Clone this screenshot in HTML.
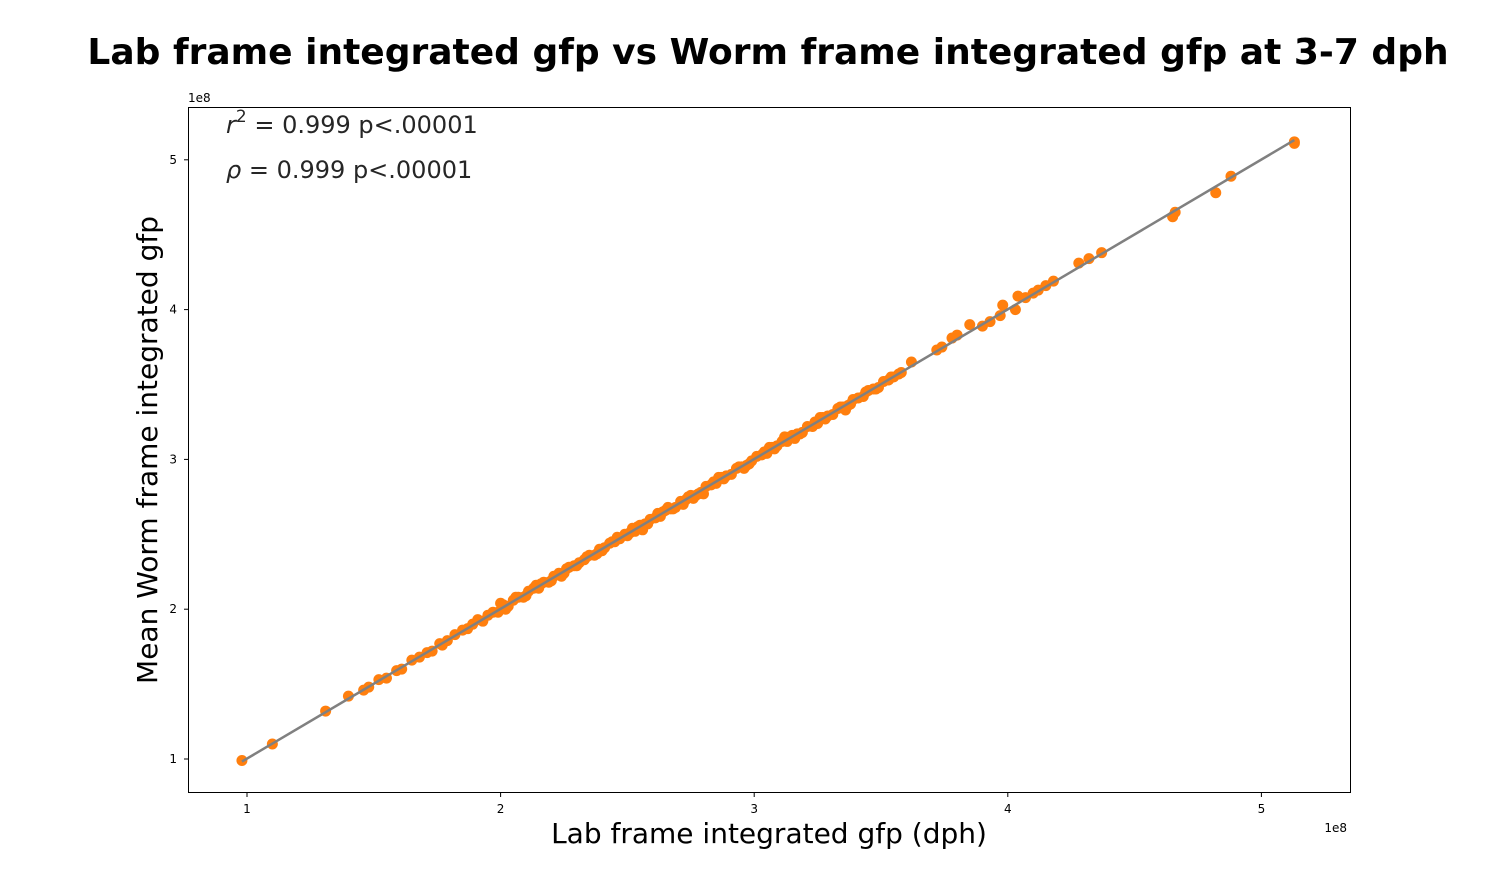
<!DOCTYPE html>
<html><head><meta charset="utf-8"><style>
body{margin:0;background:#fff;}
svg{display:block;font-family:"DejaVu Sans","Liberation Sans",sans-serif;}
</style></head><body>
<svg id="chart" width="1500" height="891" viewBox="0 0 1500 891">
<text x="768" y="64" text-anchor="middle" font-size="36" font-weight="bold">Lab frame integrated gfp vs Worm frame integrated gfp at 3-7 dph</text>
<rect x="188.5" y="107.5" width="1162" height="685" fill="none" stroke="#000" stroke-width="1"/>
<g id="marks"></g>
<g id="axes"></g>
<text x="1347" y="832" text-anchor="end" font-size="12">1e8</text>
<text x="188" y="102" font-size="12">1e8</text>
<text x="769" y="843" text-anchor="middle" font-size="28">Lab frame integrated gfp (dph)</text>
<text transform="translate(157,450) rotate(-90)" text-anchor="middle" font-size="28">Mean Worm frame integrated gfp</text>
<text x="226" y="133" font-size="24" fill="#262626"><tspan font-style="italic">r</tspan><tspan dy="-11" font-size="17">2</tspan><tspan dy="11"> = 0.999 p&lt;.00001</tspan></text>
<text x="226" y="178" font-size="24" fill="#262626"><tspan font-style="italic">ρ</tspan> = 0.999 p&lt;.00001</text>
</svg>
<script>
const xTicks=[1,2,3,4,5];
const yTicks=[1,2,3,4,5];
const labX=[0.98,1.10,1.31,1.40,1.46,1.48,1.52,1.55,1.59,1.61,1.65,1.68,1.71,1.73,1.76,1.77,1.79,1.82,1.85,1.87,1.89,1.91,1.93,1.95,1.97,1.99,2.01,2.03,2.05,2.07,2.09,2.11,2.13,2.15,2.17,2.19,2.21,2.23,2.25,2.27,2.29,2.31,2.33,2.35,2.37,2.39,2.41,2.43,2.45,2.47,2.49,2.51,2.53,2.55,2.57,2.59,2.61,2.63,2.65,2.67,2.69,2.71,2.73,2.75,2.77,2.79,2.81,2.83,2.85,2.87,2.89,2.91,2.93,2.95,2.97,2.99,3.01,3.03,3.05,3.07,3.09,3.11,3.13,3.15,3.17,3.19,3.21,3.23,3.25,3.27,3.29,3.31,3.33,3.35,3.37,3.39,3.41,3.43,3.45,3.47,3.49,3.51,3.53,3.55,3.57,3.58,3.62,3.72,3.74,3.78,3.80,3.85,3.90,3.93,3.97,3.98,4.03,4.04,4.07,4.10,4.12,4.15,4.18,4.28,4.32,4.37,4.65,4.66,4.82,4.88,5.13,5.13,2.00,2.24,2.46,2.62,2.80,3.12,3.36,2.14,2.38,2.72,
2.02,2.06,2.10,2.16,2.20,2.26,2.30,2.34,2.40,2.44,2.50,2.54,2.58,2.64,2.68,2.74,2.78,2.84,2.88,2.94,2.98,3.04,3.08,3.14,3.18,3.24,3.28,3.34,3.38,3.44,3.48,3.54,2.52,2.56,2.66,2.76,2.86,2.96,3.06,3.16,3.26];
const wormY=[0.99,1.10,1.32,1.42,1.46,1.48,1.53,1.54,1.59,1.60,1.66,1.68,1.71,1.72,1.77,1.76,1.79,1.83,1.86,1.87,1.90,1.93,1.92,1.96,1.98,1.98,2.03,2.02,2.06,2.08,2.08,2.12,2.14,2.14,2.18,2.18,2.22,2.24,2.24,2.28,2.29,2.31,2.33,2.36,2.36,2.40,2.41,2.44,2.45,2.47,2.50,2.51,2.52,2.56,2.57,2.60,2.61,2.62,2.66,2.67,2.68,2.72,2.73,2.76,2.76,2.78,2.82,2.83,2.84,2.88,2.89,2.90,2.94,2.95,2.96,2.99,3.02,3.03,3.04,3.08,3.09,3.12,3.12,3.16,3.17,3.18,3.22,3.22,3.24,3.28,3.29,3.30,3.34,3.35,3.36,3.40,3.41,3.42,3.46,3.47,3.48,3.52,3.53,3.55,3.57,3.58,3.65,3.73,3.75,3.81,3.83,3.90,3.89,3.92,3.96,4.03,4.00,4.09,4.08,4.11,4.13,4.16,4.19,4.31,4.34,4.38,4.62,4.65,4.78,4.89,5.12,5.11,2.04,2.22,2.48,2.64,2.77,3.15,3.33,2.16,2.37,2.70,
2.00,2.08,2.09,2.17,2.19,2.27,2.29,2.35,2.39,2.45,2.49,2.55,2.57,2.65,2.67,2.75,2.77,2.85,2.87,2.95,2.97,3.05,3.07,3.15,3.17,3.25,3.27,3.35,3.37,3.45,3.47,3.55,2.54,2.53,2.68,2.74,2.88,2.94,3.08,3.14,3.28];
const NS="http://www.w3.org/2000/svg";
function sx(v){return 247+(v-1)*253.6;}
function sy(v){return 759-(v-1)*149.8;}
const marks=document.getElementById('marks');
const axes=document.getElementById('axes');
labX.forEach((x,i)=>{
  const c=document.createElementNS(NS,'circle');
  c.setAttribute('cx',sx(x));c.setAttribute('cy',sy(wormY[i]));c.setAttribute('r',5.5);c.setAttribute('fill','#ff7f0e');
  
  
  marks.appendChild(c);
});
const n=labX.length;
const mx=labX.reduce((a,b)=>a+b,0)/n,my=wormY.reduce((a,b)=>a+b,0)/n;
let sxy=0,sxx=0;labX.forEach((x,i)=>{sxy+=(x-mx)*(wormY[i]-my);sxx+=(x-mx)*(x-mx);});
const b=sxy/sxx,a=my-b*mx;
const xmin=Math.min(...labX),xmax=Math.max(...labX);
const ln=document.createElementNS(NS,'line');
ln.setAttribute('x1',sx(xmin));ln.setAttribute('y1',sy(a+b*xmin));ln.setAttribute('x2',sx(xmax));ln.setAttribute('y2',sy(a+b*xmax));
ln.setAttribute('stroke','#808080');ln.setAttribute('stroke-width',2.5);


marks.appendChild(ln);
xTicks.forEach(t=>{
  const l=document.createElementNS(NS,'line');
  l.setAttribute('x1',sx(t));l.setAttribute('x2',sx(t));l.setAttribute('y1',792.5);l.setAttribute('y2',797);l.setAttribute('stroke','#000');
  
  
  axes.appendChild(l);
  const tx=document.createElementNS(NS,'text');
  tx.setAttribute('x',sx(t));tx.setAttribute('y',813);tx.setAttribute('text-anchor','middle');tx.setAttribute('font-size',12);tx.textContent=t;
  
  
  axes.appendChild(tx);
});
yTicks.forEach(t=>{
  const l=document.createElementNS(NS,'line');
  l.setAttribute('x1',184);l.setAttribute('x2',188.5);l.setAttribute('y1',sy(t));l.setAttribute('y2',sy(t));l.setAttribute('stroke','#000');
  
  
  axes.appendChild(l);
  const tx=document.createElementNS(NS,'text');
  tx.setAttribute('x',177);tx.setAttribute('y',sy(t)+4);tx.setAttribute('text-anchor','end');tx.setAttribute('font-size',12);tx.textContent=t;
  
  
  axes.appendChild(tx);
});
</script>
</body></html>
